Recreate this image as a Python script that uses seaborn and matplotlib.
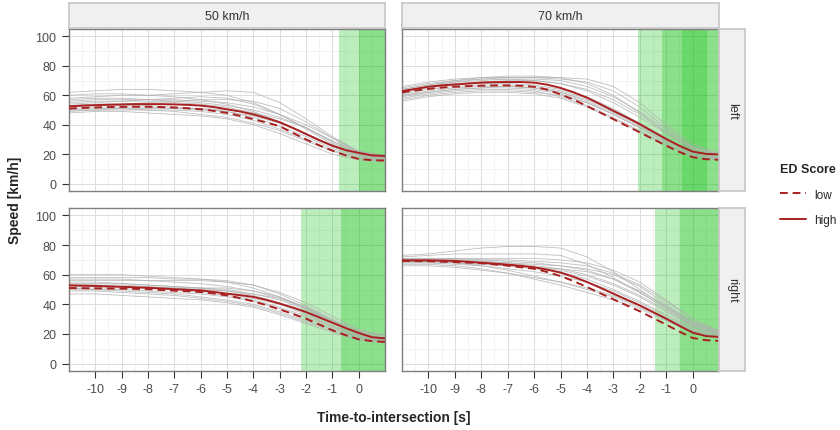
import numpy as np
import pandas as pd
import matplotlib
matplotlib.use("Agg")
import matplotlib.pyplot as plt
import seaborn as sns
from matplotlib.lines import Line2D

# time axis
t_grey = [-11, -10, -9, -8, -7, -6, -5, -4, -3, -2, -1, 0, 1]
t_mean = [-11, -10.5, -10, -9.5, -9, -8.5, -8, -7.5, -7, -6.5, -6, -5.5, -5,
          -4.5, -4, -3.5, -3, -2.5, -2, -1.5, -1, -0.5, 0, 0.5, 1]

speed_limits = ["50 km/h", "70 km/h"]
directions = ["left", "right"]
scores = ["low", "high"]

# individual drivers (grey), read at t_grey
grey_50_left = [
    [62, 63, 64, 64, 63, 62, 60, 55, 47, 37, 27, 20, 18],
    [58, 59, 60, 60, 61, 62, 63, 62, 55, 44, 32, 22, 19],
    [55, 56, 56, 56, 55, 54, 52, 48, 42, 34, 26, 20, 18],
    [52, 53, 53, 53, 52, 51, 49, 45, 39, 32, 24, 18, 16],
    [50, 51, 51, 50, 49, 47, 45, 41, 36, 29, 22, 17, 16],
    [48, 49, 49, 48, 47, 46, 44, 40, 34, 27, 20, 16, 15],
    [57, 58, 58, 57, 57, 56, 55, 52, 47, 40, 31, 22, 19],
    [54, 55, 56, 57, 58, 59, 58, 54, 47, 38, 28, 20, 17],
    [51, 52, 52, 52, 51, 51, 50, 48, 44, 38, 29, 21, 18],
    [60, 61, 61, 60, 59, 57, 54, 49, 42, 34, 25, 19, 17],
    [53, 54, 54, 55, 56, 57, 57, 56, 51, 42, 31, 21, 17],
    [49, 50, 50, 50, 50, 49, 47, 43, 37, 30, 23, 17, 15],
    [56, 57, 57, 57, 56, 55, 53, 50, 45, 38, 29, 21, 18],
    [50, 50, 51, 51, 51, 50, 49, 46, 41, 34, 26, 19, 16],
]
grey_70_left = [
    [64, 67, 70, 72, 73, 73, 72, 68, 60, 48, 35, 24, 20],
    [60, 63, 65, 66, 66, 65, 62, 56, 48, 39, 30, 21, 18],
    [58, 61, 63, 64, 64, 63, 59, 53, 45, 36, 27, 19, 17],
    [66, 69, 71, 72, 72, 72, 71, 69, 63, 52, 38, 25, 20],
    [62, 65, 67, 68, 68, 67, 64, 59, 51, 41, 31, 21, 18],
    [56, 59, 61, 62, 62, 61, 58, 52, 44, 35, 26, 18, 16],
    [63, 66, 68, 69, 70, 70, 68, 64, 57, 47, 35, 24, 20],
    [61, 64, 66, 67, 67, 66, 63, 58, 50, 41, 31, 22, 18],
    [65, 68, 70, 71, 71, 70, 68, 63, 55, 45, 34, 23, 19],
    [59, 62, 64, 65, 65, 64, 61, 55, 47, 38, 29, 20, 17],
    [63, 66, 69, 71, 72, 72, 72, 71, 66, 55, 40, 27, 21],
    [60, 62, 64, 65, 66, 65, 62, 57, 49, 40, 30, 21, 18],
    [64, 67, 69, 70, 71, 71, 70, 66, 59, 49, 37, 25, 20],
    [57, 60, 62, 63, 63, 62, 60, 55, 47, 38, 28, 19, 16],
]
grey_50_right = [
    [60, 60, 60, 59, 58, 57, 55, 51, 45, 37, 29, 22, 19],
    [56, 56, 56, 56, 56, 56, 55, 53, 48, 41, 32, 23, 19],
    [53, 53, 52, 51, 50, 48, 46, 43, 38, 32, 25, 19, 16],
    [50, 50, 49, 48, 47, 45, 43, 40, 35, 29, 23, 17, 15],
    [47, 47, 46, 45, 44, 43, 41, 38, 33, 27, 21, 16, 14],
    [54, 54, 54, 53, 52, 51, 50, 47, 43, 36, 28, 20, 17],
    [52, 52, 52, 51, 51, 50, 49, 46, 41, 34, 26, 19, 16],
    [58, 58, 58, 58, 57, 57, 56, 53, 47, 39, 30, 22, 18],
    [49, 49, 48, 47, 46, 44, 42, 39, 34, 28, 22, 16, 14],
    [55, 55, 54, 53, 52, 51, 49, 47, 44, 38, 29, 21, 17],
    [51, 51, 51, 51, 51, 51, 51, 49, 45, 38, 29, 20, 16],
    [53, 53, 53, 52, 51, 49, 47, 44, 40, 33, 25, 18, 15],
    [57, 57, 57, 56, 55, 54, 52, 49, 44, 37, 28, 20, 17],
    [51, 50, 50, 49, 48, 47, 45, 42, 37, 31, 24, 18, 15],
]
grey_70_right = [
    [72, 73, 74, 74, 74, 74, 73, 67, 58, 48, 38, 28, 22],
    [70, 70, 70, 70, 70, 69, 68, 66, 61, 53, 42, 30, 22],
    [68, 68, 68, 67, 66, 64, 62, 57, 50, 42, 33, 24, 19],
    [69, 69, 68, 66, 63, 59, 55, 50, 45, 38, 30, 22, 18],
    [71, 71, 71, 70, 69, 68, 66, 63, 57, 49, 39, 27, 21],
    [67, 67, 66, 64, 61, 57, 53, 48, 43, 37, 29, 21, 17],
    [70, 70, 69, 68, 67, 65, 63, 59, 53, 45, 35, 25, 19],
    [69, 69, 69, 69, 68, 67, 66, 64, 60, 52, 40, 28, 21],
    [68, 68, 67, 66, 64, 62, 59, 55, 49, 41, 32, 23, 18],
    [71, 71, 71, 71, 71, 71, 70, 68, 63, 55, 43, 30, 22],
    [66, 66, 65, 63, 61, 58, 55, 51, 46, 39, 31, 22, 17],
    [70, 70, 70, 69, 68, 66, 64, 60, 54, 46, 36, 26, 20],
    [73, 74, 76, 78, 79, 79, 78, 72, 62, 50, 38, 27, 21],
    [69, 69, 68, 67, 66, 65, 64, 62, 57, 48, 37, 26, 20],
]

# mean speed per ED score group, read at t_mean
high_50_left = [52.5, 53, 53.3, 53.6, 53.8, 54, 54, 54, 53.8, 53.5, 53, 52, 50.5,
                49, 47, 44.5, 41.7, 37.8, 33.7, 29.5, 25.8, 22.8, 20.9, 19.2, 18.8]
low_50_left = [51, 51.4, 51.7, 52, 52.1, 52.2, 52.2, 52, 51.7, 51.2, 50.5, 49.4, 48,
               46, 43.8, 41.5, 39, 34.5, 30, 26, 22.4, 19.2, 16.8, 15.9, 15.7]
high_70_left = [62.8, 64.3, 65.8, 66.7, 67.3, 68, 68.6, 68.9, 69, 69, 68.6, 67.2, 65,
                62, 58.4, 54, 49.4, 45, 40.4, 35.3, 30.3, 25.7, 21.8, 20.2, 19.8]
low_70_left = [62, 63.2, 64.3, 65.2, 65.8, 66.2, 66.5, 66.7, 66.7, 66.5, 65.8, 63.8, 60.6,
               57, 52.7, 48.3, 43.8, 39.3, 34.8, 30.3, 25.8, 21.5, 18, 16.6, 16.2]
high_50_right = [52.8, 52.6, 52.4, 52.1, 51.8, 51.5, 51.2, 50.7, 50.2, 49.8, 49.4, 48.4, 47.2,
                 46.2, 45, 43, 40.5, 37.8, 34.8, 31.2, 27.6, 24, 20.7, 17.8, 17]
low_50_right = [51, 50.9, 50.8, 50.7, 50.6, 50.4, 50.2, 49.7, 49.2, 48.8, 48.3, 47.3, 46,
                44.2, 42, 39.4, 36.6, 33.5, 30.3, 26.4, 22.5, 19.2, 16.4, 15.2, 14.6]
high_70_right = [69.7, 69.7, 69.7, 69.5, 69.3, 68.7, 68.1, 67.5, 66.8, 66, 65, 63.4, 61.4,
                 58.5, 55.1, 51.2, 47.2, 43.2, 39.3, 34.8, 30.3, 25.5, 20.9, 18.6, 18]
low_70_right = [69.3, 69.2, 69.1, 68.8, 68.5, 68.2, 67.8, 67, 66.1, 65, 64, 61.8, 59.1,
                55.6, 51.7, 47.5, 43.4, 39.3, 35.3, 30.8, 26.3, 21.6, 17.3, 15.8, 15.3]

# green time windows (start, end) per panel
windows_50_left = [(-0.76, 1), (0.0, 1)]
windows_70_left = [(-2.08, 1), (-1.16, 1), (-0.40, 0.55)]
windows_50_right = [(-2.2, 1), (-0.68, 1)]
windows_70_right = [(-1.44, 1), (-0.47, 1)]

grey = {("50 km/h", "left"): grey_50_left, ("70 km/h", "left"): grey_70_left,
        ("50 km/h", "right"): grey_50_right, ("70 km/h", "right"): grey_70_right}
means = {("50 km/h", "left"): (low_50_left, high_50_left),
         ("70 km/h", "left"): (low_70_left, high_70_left),
         ("50 km/h", "right"): (low_50_right, high_50_right),
         ("70 km/h", "right"): (low_70_right, high_70_right)}
windows = {("50 km/h", "left"): windows_50_left, ("70 km/h", "left"): windows_70_left,
           ("50 km/h", "right"): windows_50_right, ("70 km/h", "right"): windows_70_right}

# long tables
rows = []
for key, lines in grey.items():
    for i, vals in enumerate(lines):
        for t, v in zip(t_grey, vals):
            rows.append((key[0], key[1], i, t, v))
grey_df = pd.DataFrame(rows, columns=["limit", "direction", "driver", "t", "speed"])

rows = []
for key, (lo, hi) in means.items():
    for score, vals in zip(scores, (lo, hi)):
        for t, v in zip(t_mean, vals):
            rows.append((key[0], key[1], score, t, v))
mean_df = pd.DataFrame(rows, columns=["limit", "direction", "score", "t", "speed"])

sns.set_theme(style="whitegrid")
plt.rcParams['font.family'] = ['Liberation Sans', 'DejaVu Sans']
plt.rcParams['axes.unicode_minus'] = False

RED = "#a82020"
GREEN = "#10c010"
DASH = (4, 2.5)
W, H = 840, 431
fig = plt.figure(figsize=(8.4, 4.31), dpi=100)

col_x = [(69, 385), (402, 719)]
row_y = [(30, 192), (209, 372)]
strip_col = "#f0f0f0"
edge_col = "#7f7f7f"


def fig_rect(x0, x1, y0, y1):
    return [x0 / W, 1 - y1 / H, (x1 - x0) / W, (y1 - y0) / H]


for r, direction in enumerate(directions):
    for c, limit in enumerate(speed_limits):
        ax = fig.add_axes(fig_rect(*col_x[c], *row_y[r]))
        ax.set_facecolor("white")
        for a, b in windows[(limit, direction)]:
            ax.axvspan(a, b, color=GREEN, alpha=0.28, lw=0, zorder=1)
        g = grey_df[(grey_df.limit == limit) & (grey_df.direction == direction)]
        sns.lineplot(data=g, x="t", y="speed", units="driver", estimator=None,
                     color="#b0b0b0", lw=0.6, alpha=0.8, ax=ax, legend=False, zorder=2)
        m = mean_df[(mean_df.limit == limit) & (mean_df.direction == direction)]
        sns.lineplot(data=m, x="t", y="speed", style="score", style_order=scores,
                     dashes={"low": DASH, "high": ""}, color=RED, lw=1.4,
                     ax=ax, legend=False, zorder=3)
        ax.set_xlim(-11, 1)
        ax.set_ylim(-5, 105)
        ax.set_xticks(range(-10, 1))
        ax.set_xticks(np.arange(-10.5, 1, 1), minor=True)
        ax.set_yticks(range(0, 101, 20))
        ax.set_yticks(range(10, 100, 20), minor=True)
        ax.grid(which="major", color="#dcdcdc", lw=0.7)
        ax.grid(which="minor", color="#efefef", lw=0.5)
        ax.set_axisbelow(True)
        ax.set_xlabel("")
        ax.set_ylabel("")
        for s in ax.spines.values():
            s.set_color(edge_col)
            s.set_linewidth(1.0)
        ax.tick_params(which="major", length=5, width=0.8, color="#333333",
                       labelsize=9, labelcolor="#4d4d4d", pad=4,
                       bottom=(r == 1), left=(c == 0),
                       labelbottom=(r == 1), labelleft=(c == 0))
        ax.tick_params(which="minor", length=0)

        # column strips
        if r == 0:
            sax = fig.add_axes(fig_rect(col_x[c][0], col_x[c][1], 4, 29))
            sax.set_facecolor(strip_col)
            sax.set_xticks([])
            sax.set_yticks([])
            for s in sax.spines.values():
                s.set_color("#c8c8c8")
            sax.text(0.5, 0.5, limit, ha="center", va="center", fontsize=9,
                     color="#333333", transform=sax.transAxes)
        # row strips
        if c == 1:
            sax = fig.add_axes(fig_rect(719, 745, *row_y[r]))
            sax.set_facecolor(strip_col)
            sax.set_xticks([])
            sax.set_yticks([])
            for s in sax.spines.values():
                s.set_color("#c8c8c8")
            sax.text(0.5, 0.5, direction, ha="center", va="center", fontsize=9,
                     rotation=-90, color="#333333", transform=sax.transAxes)

fig.text(15 / W, 1 - 200 / H, "Speed [km/h]", rotation=90, ha="center", va="center",
         fontsize=10, fontweight="bold")
fig.text(394 / W, 1 - 418 / H, "Time-to-intersection [s]", ha="center", va="center",
         fontsize=10, fontweight="bold")

handles = [Line2D([], [], color=RED, lw=1.4, dashes=DASH),
           Line2D([], [], color=RED, lw=1.4)]
fig.legend(handles, scores, title="ED Score", loc="upper left",
           bbox_to_anchor=(769 / W, 1 - 153 / H), frameon=False, fontsize=8.5,
           title_fontproperties={"weight": "bold", "size": 9},
           alignment="left", handlelength=2.2, labelspacing=1.15, handleheight=1.0,
           handletextpad=0.7)

fig.savefig("out.png", dpi=100)
